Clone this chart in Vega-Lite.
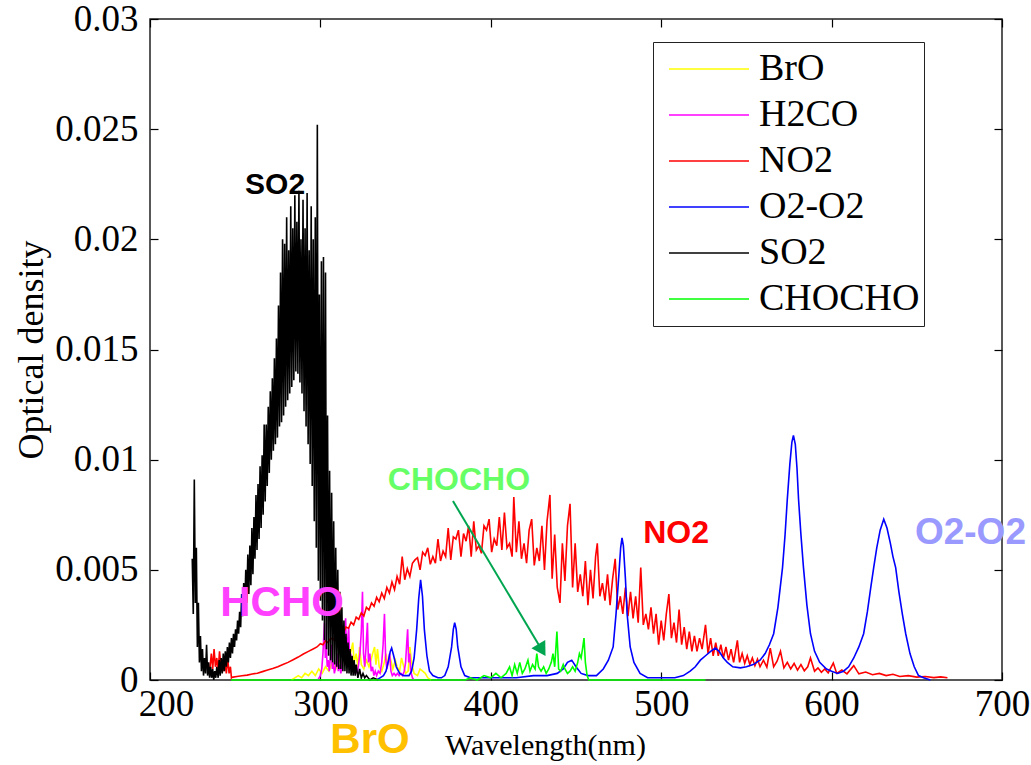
{
"$schema": "https://vega.github.io/schema/vega-lite/v6.json",
"width": 852, "height": 661,
"autosize": "none",
"padding": {"left": 150, "top": 19, "right": 29, "bottom": 85},
"background": "white",
"config": {
 "view": {"stroke": "#222222", "strokeWidth": 1.5},
 "axis": {"labelFont": "Liberation Serif", "titleFont": "Liberation Serif", "labelFontSize": 37, "titleFontSize": 30, "titleFontWeight": "normal", "labelColor": "black", "titleColor": "black", "domain": false, "grid": false, "tickColor": "black", "tickSize": -8, "tickWidth": 1.2, "labelFlush": false},
 "legend": {"orient": "none", "legendX": 503, "legendY": 23, "symbolType": "stroke", "symbolSize": 6400, "symbolStrokeWidth": 1.5, "symbolOffset": 11, "clipHeight": 46, "labelFont": "Liberation Serif", "labelFontSize": 38, "labelColor": "black", "labelLimit": 400, "rowPadding": 0, "padding": 4, "strokeColor": "#222222", "fillColor": "white", "labelOffset": 9, "titleFontSize": 0}
},
"datasets": {
"spec": [
{"s":"BrO","x":283.0,"y":0.0000},{"s":"BrO","x":285.0,"y":0.0001},{"s":"BrO","x":287.0,"y":0.0002},{"s":"BrO","x":289.0,"y":0.0001},{"s":"BrO","x":291.0,"y":0.0003},{"s":"BrO","x":293.0,"y":0.0002},{"s":"BrO","x":295.0,"y":0.0004},{"s":"BrO","x":297.0,"y":0.0002},{"s":"BrO","x":299.0,"y":0.0005},{"s":"BrO","x":301.0,"y":0.0003},{"s":"BrO","x":303.0,"y":0.0006},{"s":"BrO","x":305.0,"y":0.0004},{"s":"BrO","x":307.0,"y":0.0008},{"s":"BrO","x":309.0,"y":0.0005},{"s":"BrO","x":311.0,"y":0.0009},{"s":"BrO","x":312.5,"y":0.0006},{"s":"BrO","x":314.0,"y":0.0012},{"s":"BrO","x":315.5,"y":0.0006},{"s":"BrO","x":317.0,"y":0.0010},{"s":"BrO","x":318.2,"y":0.0014},{"s":"BrO","x":319.0,"y":0.0017},{"s":"BrO","x":319.8,"y":0.0008},{"s":"BrO","x":321.0,"y":0.0012},{"s":"BrO","x":322.0,"y":0.0006},{"s":"BrO","x":323.0,"y":0.0015},{"s":"BrO","x":324.0,"y":0.0007},{"s":"BrO","x":325.5,"y":0.0005},{"s":"BrO","x":327.0,"y":0.0009},{"s":"BrO","x":328.5,"y":0.0006},{"s":"BrO","x":330.0,"y":0.0010},{"s":"BrO","x":331.0,"y":0.0013},{"s":"BrO","x":331.8,"y":0.0015},{"s":"BrO","x":332.6,"y":0.0007},{"s":"BrO","x":333.5,"y":0.0014},{"s":"BrO","x":334.5,"y":0.0006},{"s":"BrO","x":336.0,"y":0.0004},{"s":"BrO","x":337.5,"y":0.0008},{"s":"BrO","x":338.5,"y":0.0012},{"s":"BrO","x":339.5,"y":0.0007},{"s":"BrO","x":341.0,"y":0.0010},{"s":"BrO","x":342.5,"y":0.0005},{"s":"BrO","x":344.0,"y":0.0009},{"s":"BrO","x":345.0,"y":0.0006},{"s":"BrO","x":346.5,"y":0.0004},{"s":"BrO","x":347.6,"y":0.0010},{"s":"BrO","x":348.6,"y":0.0007},{"s":"BrO","x":350.0,"y":0.0003},{"s":"BrO","x":351.5,"y":0.0004},{"s":"BrO","x":352.5,"y":0.0015},{"s":"BrO","x":353.5,"y":0.0008},{"s":"BrO","x":355.0,"y":0.0003},{"s":"BrO","x":357.0,"y":0.0002},{"s":"BrO","x":358.5,"y":0.0005},{"s":"BrO","x":360.0,"y":0.0004},{"s":"BrO","x":361.5,"y":0.0003},{"s":"BrO","x":363.0,"y":0.0001},{"s":"BrO","x":365.0,"y":0.0000},
{"s":"H2CO","x":298.5,"y":0.0000},{"s":"H2CO","x":300.0,"y":0.0002},{"s":"H2CO","x":300.8,"y":0.0005},{"s":"H2CO","x":301.5,"y":0.0012},{"s":"H2CO","x":302.0,"y":0.0020},{"s":"H2CO","x":302.4,"y":0.0026},{"s":"H2CO","x":302.9,"y":0.0010},{"s":"H2CO","x":303.4,"y":0.0016},{"s":"H2CO","x":304.0,"y":0.0006},{"s":"H2CO","x":304.6,"y":0.0009},{"s":"H2CO","x":305.2,"y":0.0004},{"s":"H2CO","x":305.8,"y":0.0010},{"s":"H2CO","x":306.5,"y":0.0016},{"s":"H2CO","x":307.0,"y":0.0005},{"s":"H2CO","x":307.6,"y":0.0008},{"s":"H2CO","x":308.2,"y":0.0003},{"s":"H2CO","x":309.0,"y":0.0006},{"s":"H2CO","x":309.8,"y":0.0012},{"s":"H2CO","x":310.5,"y":0.0004},{"s":"H2CO","x":311.2,"y":0.0007},{"s":"H2CO","x":312.0,"y":0.0003},{"s":"H2CO","x":312.8,"y":0.0008},{"s":"H2CO","x":313.5,"y":0.0012},{"s":"H2CO","x":314.2,"y":0.0020},{"s":"H2CO","x":314.8,"y":0.0028},{"s":"H2CO","x":315.4,"y":0.0009},{"s":"H2CO","x":316.0,"y":0.0018},{"s":"H2CO","x":316.6,"y":0.0024},{"s":"H2CO","x":317.2,"y":0.0008},{"s":"H2CO","x":317.8,"y":0.0012},{"s":"H2CO","x":318.5,"y":0.0004},{"s":"H2CO","x":319.2,"y":0.0006},{"s":"H2CO","x":320.0,"y":0.0003},{"s":"H2CO","x":320.8,"y":0.0005},{"s":"H2CO","x":321.6,"y":0.0003},{"s":"H2CO","x":322.4,"y":0.0007},{"s":"H2CO","x":323.2,"y":0.0012},{"s":"H2CO","x":324.0,"y":0.0022},{"s":"H2CO","x":324.7,"y":0.0040},{"s":"H2CO","x":325.3,"y":0.0012},{"s":"H2CO","x":326.0,"y":0.0006},{"s":"H2CO","x":326.8,"y":0.0015},{"s":"H2CO","x":327.6,"y":0.0026},{"s":"H2CO","x":328.2,"y":0.0008},{"s":"H2CO","x":329.0,"y":0.0012},{"s":"H2CO","x":329.8,"y":0.0004},{"s":"H2CO","x":330.6,"y":0.0006},{"s":"H2CO","x":331.4,"y":0.0002},{"s":"H2CO","x":332.2,"y":0.0004},{"s":"H2CO","x":333.0,"y":0.0002},{"s":"H2CO","x":334.0,"y":0.0004},{"s":"H2CO","x":335.0,"y":0.0003},{"s":"H2CO","x":336.0,"y":0.0008},{"s":"H2CO","x":336.8,"y":0.0016},{"s":"H2CO","x":337.6,"y":0.0030},{"s":"H2CO","x":338.3,"y":0.0010},{"s":"H2CO","x":339.0,"y":0.0005},{"s":"H2CO","x":339.8,"y":0.0008},{"s":"H2CO","x":340.6,"y":0.0012},{"s":"H2CO","x":341.4,"y":0.0004},{"s":"H2CO","x":342.2,"y":0.0002},{"s":"H2CO","x":343.2,"y":0.0003},{"s":"H2CO","x":344.2,"y":0.0002},{"s":"H2CO","x":345.2,"y":0.0003},{"s":"H2CO","x":346.2,"y":0.0002},{"s":"H2CO","x":347.2,"y":0.0003},{"s":"H2CO","x":348.2,"y":0.0002},{"s":"H2CO","x":349.2,"y":0.0004},{"s":"H2CO","x":350.0,"y":0.0008},{"s":"H2CO","x":350.6,"y":0.0016},{"s":"H2CO","x":351.2,"y":0.0023},{"s":"H2CO","x":351.8,"y":0.0008},{"s":"H2CO","x":352.4,"y":0.0012},{"s":"H2CO","x":353.0,"y":0.0004},{"s":"H2CO","x":354.0,"y":0.0001},{"s":"H2CO","x":355.0,"y":0.0000},
{"s":"NO2","x":235.0,"y":0.0004},{"s":"NO2","x":236.0,"y":0.0012},{"s":"NO2","x":236.8,"y":0.0005},{"s":"NO2","x":237.6,"y":0.0014},{"s":"NO2","x":238.4,"y":0.0006},{"s":"NO2","x":239.2,"y":0.0010},{"s":"NO2","x":240.0,"y":0.0004},{"s":"NO2","x":240.8,"y":0.0013},{"s":"NO2","x":241.6,"y":0.0006},{"s":"NO2","x":242.4,"y":0.0009},{"s":"NO2","x":243.2,"y":0.0004},{"s":"NO2","x":244.0,"y":0.0008},{"s":"NO2","x":244.8,"y":0.0003},{"s":"NO2","x":245.6,"y":0.0010},{"s":"NO2","x":246.4,"y":0.0003},{"s":"NO2","x":247.2,"y":0.0006},{"s":"NO2","x":247.8,"y":0.0001},
{"s":"NO2","x":248,"y":0.00012},{"s":"NO2","x":251,"y":0.00016},{"s":"NO2","x":254,"y":0.00019},{"s":"NO2","x":257,"y":0.00022},{"s":"NO2","x":260,"y":0.00027},{"s":"NO2","x":263,"y":0.00031},{"s":"NO2","x":266,"y":0.00038},{"s":"NO2","x":269,"y":0.00045},{"s":"NO2","x":272,"y":0.00052},{"s":"NO2","x":275,"y":0.00060},{"s":"NO2","x":278,"y":0.00070},{"s":"NO2","x":281,"y":0.00080},{"s":"NO2","x":284,"y":0.00092},{"s":"NO2","x":287,"y":0.00104},{"s":"NO2","x":290,"y":0.00118},{"s":"NO2","x":293,"y":0.00130},{"s":"NO2","x":296,"y":0.00142},{"s":"NO2","x":298,"y":0.00150},
{"s":"NO2","x":300.0,"y":0.00165},{"s":"NO2","x":301.5,"y":0.00160},{"s":"NO2","x":303.0,"y":0.00178},{"s":"NO2","x":304.5,"y":0.00170},{"s":"NO2","x":306.0,"y":0.00190},{"s":"NO2","x":307.5,"y":0.00182},{"s":"NO2","x":309.0,"y":0.00205},{"s":"NO2","x":310.5,"y":0.00200},{"s":"NO2","x":312.0,"y":0.00225},{"s":"NO2","x":313.5,"y":0.00215},{"s":"NO2","x":315.0,"y":0.00240},{"s":"NO2","x":316.5,"y":0.00235},{"s":"NO2","x":318.0,"y":0.00262},{"s":"NO2","x":319.5,"y":0.00250},{"s":"NO2","x":321.0,"y":0.00285},{"s":"NO2","x":322.5,"y":0.00275},{"s":"NO2","x":324.0,"y":0.00305},{"s":"NO2","x":325.5,"y":0.00290},{"s":"NO2","x":327.0,"y":0.00330},{"s":"NO2","x":328.5,"y":0.00318},{"s":"NO2","x":330.0,"y":0.00350},{"s":"NO2","x":331.5,"y":0.00335},{"s":"NO2","x":333.0,"y":0.00375},{"s":"NO2","x":334.5,"y":0.00355},{"s":"NO2","x":336.0,"y":0.00395},{"s":"NO2","x":337.5,"y":0.00370},{"s":"NO2","x":339.0,"y":0.00420},{"s":"NO2","x":340.5,"y":0.00395},{"s":"NO2","x":342.0,"y":0.00445},{"s":"NO2","x":343.5,"y":0.00410},{"s":"NO2","x":345.0,"y":0.00470},{"s":"NO2","x":346.5,"y":0.00435},{"s":"NO2","x":348.0,"y":0.00560},{"s":"NO2","x":349.5,"y":0.00455},{"s":"NO2","x":351.0,"y":0.00505},{"s":"NO2","x":352.5,"y":0.00470},{"s":"NO2","x":354.0,"y":0.00530},{"s":"NO2","x":355.5,"y":0.00545},{"s":"NO2","x":357.0,"y":0.00555},{"s":"NO2","x":358.5,"y":0.00500},{"s":"NO2","x":360.0,"y":0.00580},{"s":"NO2","x":361.5,"y":0.00565},{"s":"NO2","x":363.0,"y":0.00600},{"s":"NO2","x":364.5,"y":0.00525},{"s":"NO2","x":366.0,"y":0.00560},{"s":"NO2","x":367.5,"y":0.00530},{"s":"NO2","x":369.0,"y":0.00640},{"s":"NO2","x":370.5,"y":0.00540},{"s":"NO2","x":372.0,"y":0.00585},{"s":"NO2","x":373.5,"y":0.00560},{"s":"NO2","x":375.0,"y":0.00690},{"s":"NO2","x":376.5,"y":0.00545},{"s":"NO2","x":378.0,"y":0.00650},{"s":"NO2","x":379.5,"y":0.00640},{"s":"NO2","x":381.0,"y":0.00680},{"s":"NO2","x":382.5,"y":0.00560},{"s":"NO2","x":384.0,"y":0.00665},{"s":"NO2","x":385.5,"y":0.00630},{"s":"NO2","x":387.0,"y":0.00700},{"s":"NO2","x":388.5,"y":0.00560},{"s":"NO2","x":390.0,"y":0.00720},{"s":"NO2","x":391.5,"y":0.00590},{"s":"NO2","x":393.0,"y":0.00610},{"s":"NO2","x":394.5,"y":0.00575},{"s":"NO2","x":396.0,"y":0.00700},{"s":"NO2","x":397.5,"y":0.00680},{"s":"NO2","x":399.0,"y":0.00730},{"s":"NO2","x":400.5,"y":0.00580},{"s":"NO2","x":402.0,"y":0.00640},{"s":"NO2","x":403.5,"y":0.00610},{"s":"NO2","x":405.0,"y":0.00740},{"s":"NO2","x":406.5,"y":0.00590},{"s":"NO2","x":408.0,"y":0.00760},{"s":"NO2","x":409.5,"y":0.00600},{"s":"NO2","x":411.0,"y":0.00620},{"s":"NO2","x":412.5,"y":0.00560},{"s":"NO2","x":413.5,"y":0.00830},{"s":"NO2","x":415.0,"y":0.00580},{"s":"NO2","x":416.5,"y":0.00720},{"s":"NO2","x":418.0,"y":0.00550},{"s":"NO2","x":419.5,"y":0.00620},{"s":"NO2","x":421.0,"y":0.00530},{"s":"NO2","x":422.5,"y":0.00680},{"s":"NO2","x":424.0,"y":0.00730},{"s":"NO2","x":425.5,"y":0.00520},{"s":"NO2","x":427.0,"y":0.00600},{"s":"NO2","x":428.5,"y":0.00540},{"s":"NO2","x":430.0,"y":0.00700},{"s":"NO2","x":431.5,"y":0.00500},{"s":"NO2","x":433.0,"y":0.00720},{"s":"NO2","x":434.7,"y":0.00840},{"s":"NO2","x":436.0,"y":0.00460},{"s":"NO2","x":437.5,"y":0.00660},{"s":"NO2","x":439.0,"y":0.00420},{"s":"NO2","x":440.6,"y":0.00350},{"s":"NO2","x":442.0,"y":0.00620},{"s":"NO2","x":443.5,"y":0.00450},{"s":"NO2","x":445.0,"y":0.00700},{"s":"NO2","x":446.5,"y":0.00800},{"s":"NO2","x":448.0,"y":0.00420},{"s":"NO2","x":449.5,"y":0.00620},{"s":"NO2","x":451.0,"y":0.00400},{"s":"NO2","x":452.5,"y":0.00480},{"s":"NO2","x":454.0,"y":0.00380},{"s":"NO2","x":455.5,"y":0.00540},{"s":"NO2","x":457.0,"y":0.00340},{"s":"NO2","x":458.5,"y":0.00500},{"s":"NO2","x":460.0,"y":0.00370},{"s":"NO2","x":461.5,"y":0.00560},{"s":"NO2","x":462.5,"y":0.00620},{"s":"NO2","x":464.0,"y":0.00380},{"s":"NO2","x":465.5,"y":0.00440},{"s":"NO2","x":467.0,"y":0.00360},{"s":"NO2","x":468.5,"y":0.00480},{"s":"NO2","x":470.0,"y":0.00340},{"s":"NO2","x":471.5,"y":0.00460},{"s":"NO2","x":473.0,"y":0.00550},{"s":"NO2","x":474.5,"y":0.00320},{"s":"NO2","x":476.0,"y":0.00380},{"s":"NO2","x":477.5,"y":0.00300},{"s":"NO2","x":479.0,"y":0.00420},{"s":"NO2","x":480.5,"y":0.00290},{"s":"NO2","x":482.0,"y":0.00400},{"s":"NO2","x":483.5,"y":0.00280},{"s":"NO2","x":485.0,"y":0.00380},{"s":"NO2","x":486.5,"y":0.00260},{"s":"NO2","x":488.0,"y":0.00510},{"s":"NO2","x":489.5,"y":0.00250},{"s":"NO2","x":491.0,"y":0.00300},{"s":"NO2","x":492.5,"y":0.00230},{"s":"NO2","x":494.0,"y":0.00330},{"s":"NO2","x":495.5,"y":0.00210},{"s":"NO2","x":497.0,"y":0.00300},{"s":"NO2","x":498.5,"y":0.00160},{"s":"NO2","x":500.0,"y":0.00270},{"s":"NO2","x":501.5,"y":0.00180},{"s":"NO2","x":503.0,"y":0.00300},{"s":"NO2","x":504.5,"y":0.00390},{"s":"NO2","x":506.0,"y":0.00190},{"s":"NO2","x":507.5,"y":0.00260},{"s":"NO2","x":509.0,"y":0.00170},{"s":"NO2","x":510.5,"y":0.00320},{"s":"NO2","x":512.0,"y":0.00160},{"s":"NO2","x":513.5,"y":0.00240},{"s":"NO2","x":515.0,"y":0.00140},{"s":"NO2","x":516.5,"y":0.00220},{"s":"NO2","x":518.0,"y":0.00130},{"s":"NO2","x":519.5,"y":0.00200},{"s":"NO2","x":521.0,"y":0.00130},{"s":"NO2","x":522.5,"y":0.00190},{"s":"NO2","x":524.0,"y":0.00140},{"s":"NO2","x":526.0,"y":0.00250},{"s":"NO2","x":527.5,"y":0.00120},{"s":"NO2","x":529.0,"y":0.00190},{"s":"NO2","x":530.5,"y":0.00110},{"s":"NO2","x":532.0,"y":0.00170},{"s":"NO2","x":533.5,"y":0.00110},{"s":"NO2","x":535.0,"y":0.00160},{"s":"NO2","x":536.5,"y":0.00100},{"s":"NO2","x":538.0,"y":0.00150},{"s":"NO2","x":539.5,"y":0.00090},{"s":"NO2","x":541.0,"y":0.00140},{"s":"NO2","x":542.5,"y":0.00080},{"s":"NO2","x":544.7,"y":0.00180},{"s":"NO2","x":546.0,"y":0.00080},{"s":"NO2","x":547.5,"y":0.00120},{"s":"NO2","x":549.0,"y":0.00075},{"s":"NO2","x":550.5,"y":0.00110},{"s":"NO2","x":552.0,"y":0.00070},{"s":"NO2","x":553.5,"y":0.00100},{"s":"NO2","x":555.0,"y":0.00065},{"s":"NO2","x":556.5,"y":0.00095},{"s":"NO2","x":558.0,"y":0.00060},{"s":"NO2","x":560.0,"y":0.00090},{"s":"NO2","x":562.0,"y":0.00058},{"s":"NO2","x":564.0,"y":0.00145},{"s":"NO2","x":566.0,"y":0.00060},{"s":"NO2","x":568.0,"y":0.00085},{"s":"NO2","x":570.0,"y":0.00130},{"s":"NO2","x":572.0,"y":0.00055},{"s":"NO2","x":574.0,"y":0.00080},{"s":"NO2","x":576.0,"y":0.00050},{"s":"NO2","x":578.0,"y":0.00075},{"s":"NO2","x":580.0,"y":0.00045},{"s":"NO2","x":582.0,"y":0.00070},{"s":"NO2","x":584.0,"y":0.00042},{"s":"NO2","x":586.0,"y":0.00060},{"s":"NO2","x":587.6,"y":0.00100},{"s":"NO2","x":590.0,"y":0.00040},{"s":"NO2","x":592.0,"y":0.00055},{"s":"NO2","x":594.0,"y":0.00035},{"s":"NO2","x":596.0,"y":0.00050},{"s":"NO2","x":598.0,"y":0.00032},{"s":"NO2","x":601.0,"y":0.00077},{"s":"NO2","x":603.0,"y":0.00030},{"s":"NO2","x":606.0,"y":0.00045},{"s":"NO2","x":609.0,"y":0.00028},{"s":"NO2","x":613.0,"y":0.00065},{"s":"NO2","x":616.0,"y":0.00028},{"s":"NO2","x":620.0,"y":0.00036},{"s":"NO2","x":624.0,"y":0.00024},{"s":"NO2","x":628.0,"y":0.00030},{"s":"NO2","x":632.0,"y":0.00020},{"s":"NO2","x":636.0,"y":0.00026},{"s":"NO2","x":640.0,"y":0.00016},{"s":"NO2","x":645.0,"y":0.00020},{"s":"NO2","x":650.0,"y":0.00013},{"s":"NO2","x":655.0,"y":0.00016},{"s":"NO2","x":660.0,"y":0.00011},{"s":"NO2","x":664.0,"y":0.00014},{"s":"NO2","x":668.0,"y":0.00010},
{"s":"O2-O2","x":333.0,"y":0.0000},{"s":"O2-O2","x":335.0,"y":0.0001},{"s":"O2-O2","x":337.0,"y":0.0002},{"s":"O2-O2","x":338.5,"y":0.0004},{"s":"O2-O2","x":340.0,"y":0.0009},{"s":"O2-O2","x":341.0,"y":0.0013},{"s":"O2-O2","x":341.8,"y":0.00145},{"s":"O2-O2","x":343.0,"y":0.0011},{"s":"O2-O2","x":344.5,"y":0.0006},{"s":"O2-O2","x":346.5,"y":0.0003},{"s":"O2-O2","x":349.0,"y":0.0002},{"s":"O2-O2","x":352.0,"y":0.0002},{"s":"O2-O2","x":353.5,"y":0.0004},{"s":"O2-O2","x":355.0,"y":0.0010},{"s":"O2-O2","x":356.5,"y":0.0023},{"s":"O2-O2","x":357.7,"y":0.0037},{"s":"O2-O2","x":358.8,"y":0.00455},{"s":"O2-O2","x":359.9,"y":0.0038},{"s":"O2-O2","x":361.0,"y":0.0023},{"s":"O2-O2","x":362.5,"y":0.0011},{"s":"O2-O2","x":364.0,"y":0.0004},{"s":"O2-O2","x":366.0,"y":0.0002},{"s":"O2-O2","x":369.0,"y":0.0001},{"s":"O2-O2","x":371.0,"y":0.0001},{"s":"O2-O2","x":373.0,"y":0.0002},{"s":"O2-O2","x":375.0,"y":0.0006},{"s":"O2-O2","x":377.0,"y":0.0015},{"s":"O2-O2","x":378.0,"y":0.0023},{"s":"O2-O2","x":378.8,"y":0.0026},{"s":"O2-O2","x":379.7,"y":0.0023},{"s":"O2-O2","x":380.6,"y":0.0015},{"s":"O2-O2","x":382.5,"y":0.0006},{"s":"O2-O2","x":384.7,"y":0.0002},{"s":"O2-O2","x":388.0,"y":0.0001},{"s":"O2-O2","x":395.0,"y":0.0001},{"s":"O2-O2","x":405.0,"y":0.0001},{"s":"O2-O2","x":415.0,"y":0.0001},{"s":"O2-O2","x":425.0,"y":0.0002},{"s":"O2-O2","x":433.0,"y":0.0002},{"s":"O2-O2","x":439.0,"y":0.0003},{"s":"O2-O2","x":442.5,"y":0.0005},{"s":"O2-O2","x":445.0,"y":0.0008},{"s":"O2-O2","x":447.5,"y":0.0009},{"s":"O2-O2","x":450.0,"y":0.0006},{"s":"O2-O2","x":453.0,"y":0.0003},{"s":"O2-O2","x":457.0,"y":0.0002},{"s":"O2-O2","x":462.0,"y":0.0002},{"s":"O2-O2","x":466.0,"y":0.0005},{"s":"O2-O2","x":469.0,"y":0.0009},{"s":"O2-O2","x":471.8,"y":0.0015},{"s":"O2-O2","x":473.5,"y":0.0030},{"s":"O2-O2","x":475.0,"y":0.0046},{"s":"O2-O2","x":476.2,"y":0.0060},{"s":"O2-O2","x":477.0,"y":0.00645},{"s":"O2-O2","x":477.8,"y":0.0061},{"s":"O2-O2","x":479.0,"y":0.0046},{"s":"O2-O2","x":480.0,"y":0.0030},{"s":"O2-O2","x":481.8,"y":0.0015},{"s":"O2-O2","x":484.0,"y":0.0008},{"s":"O2-O2","x":487.6,"y":0.0003},{"s":"O2-O2","x":492.0,"y":0.0001},{"s":"O2-O2","x":500.0,"y":0.0001},{"s":"O2-O2","x":508.0,"y":0.0001},{"s":"O2-O2","x":513.0,"y":0.0002},{"s":"O2-O2","x":517.0,"y":0.0004},{"s":"O2-O2","x":520.0,"y":0.0006},{"s":"O2-O2","x":523.0,"y":0.0009},{"s":"O2-O2","x":526.0,"y":0.0011},{"s":"O2-O2","x":529.0,"y":0.0013},{"s":"O2-O2","x":531.8,"y":0.00145},{"s":"O2-O2","x":534.0,"y":0.0013},{"s":"O2-O2","x":536.5,"y":0.0010},{"s":"O2-O2","x":538.8,"y":0.0008},{"s":"O2-O2","x":542.0,"y":0.0006},{"s":"O2-O2","x":546.5,"y":0.00055},{"s":"O2-O2","x":550.0,"y":0.0006},{"s":"O2-O2","x":554.0,"y":0.0007},{"s":"O2-O2","x":558.0,"y":0.0009},{"s":"O2-O2","x":561.0,"y":0.0012},{"s":"O2-O2","x":563.5,"y":0.0016},{"s":"O2-O2","x":566.0,"y":0.0021},{"s":"O2-O2","x":568.5,"y":0.0033},{"s":"O2-O2","x":571.2,"y":0.0051},{"s":"O2-O2","x":572.7,"y":0.0066},{"s":"O2-O2","x":574.0,"y":0.0082},{"s":"O2-O2","x":575.5,"y":0.0098},{"s":"O2-O2","x":576.7,"y":0.0108},{"s":"O2-O2","x":577.6,"y":0.0111},{"s":"O2-O2","x":578.7,"y":0.0107},{"s":"O2-O2","x":579.7,"y":0.0096},{"s":"O2-O2","x":580.6,"y":0.0082},{"s":"O2-O2","x":582.0,"y":0.0066},{"s":"O2-O2","x":583.5,"y":0.0051},{"s":"O2-O2","x":585.5,"y":0.0034},{"s":"O2-O2","x":587.6,"y":0.0021},{"s":"O2-O2","x":590.0,"y":0.0013},{"s":"O2-O2","x":593.0,"y":0.0008},{"s":"O2-O2","x":597.0,"y":0.0005},{"s":"O2-O2","x":600.0,"y":0.0004},{"s":"O2-O2","x":603.5,"y":0.0003},{"s":"O2-O2","x":607.0,"y":0.0004},{"s":"O2-O2","x":610.0,"y":0.0006},{"s":"O2-O2","x":613.0,"y":0.0010},{"s":"O2-O2","x":616.0,"y":0.0015},{"s":"O2-O2","x":618.8,"y":0.0021},{"s":"O2-O2","x":621.0,"y":0.0031},{"s":"O2-O2","x":623.0,"y":0.0042},{"s":"O2-O2","x":624.7,"y":0.0051},{"s":"O2-O2","x":626.5,"y":0.0060},{"s":"O2-O2","x":628.5,"y":0.0068},{"s":"O2-O2","x":630.6,"y":0.0073},{"s":"O2-O2","x":632.5,"y":0.0069},{"s":"O2-O2","x":634.5,"y":0.0062},{"s":"O2-O2","x":636.0,"y":0.0056},{"s":"O2-O2","x":637.6,"y":0.0051},{"s":"O2-O2","x":639.5,"y":0.0040},{"s":"O2-O2","x":641.5,"y":0.0030},{"s":"O2-O2","x":643.5,"y":0.0021},{"s":"O2-O2","x":646.0,"y":0.0012},{"s":"O2-O2","x":648.5,"y":0.0006},{"s":"O2-O2","x":651.0,"y":0.0002},{"s":"O2-O2","x":654.0,"y":0.0001},{"s":"O2-O2","x":658.0,"y":0.0000},
{"s":"SO2","x":224.8,"y":0.0055},{"s":"SO2","x":225.4,"y":0.0030},{"s":"SO2","x":226.0,"y":0.0091},{"s":"SO2","x":226.6,"y":0.0035},{"s":"SO2","x":227.2,"y":0.0060},{"s":"SO2","x":227.8,"y":0.0015},{"s":"SO2","x":228.4,"y":0.0035},{"s":"SO2","x":229.0,"y":0.0008},{"s":"SO2","x":229.6,"y":0.0020},{"s":"SO2","x":230.2,"y":0.0004},{"s":"SO2","x":230.8,"y":0.0014},{"s":"SO2","x":231.4,"y":0.0002},{"s":"SO2","x":232.0,"y":0.0010},{"s":"SO2","x":232.6,"y":0.0003},{"s":"SO2","x":233.2,"y":0.0016},{"s":"SO2","x":233.8,"y":0.0002},{"s":"SO2","x":234.4,"y":0.0008},{"s":"SO2","x":235.0,"y":0.0001},{"s":"SO2","x":235.6,"y":0.0006},{"s":"SO2","x":236.2,"y":0.0001},{"s":"SO2","x":236.8,"y":0.0005},{"s":"SO2","x":237.4,"y":0.0000},{"s":"SO2","x":238.0,"y":0.0004},{"s":"SO2","x":238.6,"y":0.0001},{"s":"SO2","x":239.2,"y":0.0006},
{"s":"SO2","x":240.0,"y":0.0001},{"s":"SO2","x":240.6,"y":0.0009},{"s":"SO2","x":241.2,"y":0.0002},{"s":"SO2","x":241.8,"y":0.0010},{"s":"SO2","x":242.4,"y":0.0003},{"s":"SO2","x":243.0,"y":0.0012},{"s":"SO2","x":243.6,"y":0.0004},{"s":"SO2","x":244.2,"y":0.0013},{"s":"SO2","x":244.8,"y":0.0006},{"s":"SO2","x":245.4,"y":0.0015},{"s":"SO2","x":246.0,"y":0.0008},{"s":"SO2","x":246.6,"y":0.0017},{"s":"SO2","x":247.2,"y":0.0010},{"s":"SO2","x":247.8,"y":0.0019},{"s":"SO2","x":248.4,"y":0.0012},{"s":"SO2","x":249.0,"y":0.0021},{"s":"SO2","x":249.6,"y":0.0015},{"s":"SO2","x":250.2,"y":0.0023},{"s":"SO2","x":250.8,"y":0.0018},{"s":"SO2","x":251.4,"y":0.0027},{"s":"SO2","x":252.0,"y":0.0021},{"s":"SO2","x":252.6,"y":0.0031},{"s":"SO2","x":253.2,"y":0.0024},{"s":"SO2","x":253.8,"y":0.0039},{"s":"SO2","x":254.4,"y":0.0029},{"s":"SO2","x":255.0,"y":0.0044},{"s":"SO2","x":255.6,"y":0.0032},{"s":"SO2","x":256.2,"y":0.0050},{"s":"SO2","x":256.8,"y":0.0035},{"s":"SO2","x":257.4,"y":0.0057},{"s":"SO2","x":258.0,"y":0.0039},{"s":"SO2","x":258.6,"y":0.0061},{"s":"SO2","x":259.2,"y":0.0043},{"s":"SO2","x":259.8,"y":0.0069},{"s":"SO2","x":260.4,"y":0.0048},{"s":"SO2","x":261.0,"y":0.0074},{"s":"SO2","x":261.6,"y":0.0055},{"s":"SO2","x":262.2,"y":0.0084},{"s":"SO2","x":262.8,"y":0.0059},{"s":"SO2","x":263.4,"y":0.0089},{"s":"SO2","x":264.0,"y":0.0064},{"s":"SO2","x":264.6,"y":0.0097},{"s":"SO2","x":265.2,"y":0.0069},{"s":"SO2","x":265.8,"y":0.0102},{"s":"SO2","x":266.4,"y":0.0075},{"s":"SO2","x":267.0,"y":0.0116},{"s":"SO2","x":267.6,"y":0.0081},{"s":"SO2","x":268.2,"y":0.0116},{"s":"SO2","x":268.8,"y":0.0088},{"s":"SO2","x":269.4,"y":0.0124},{"s":"SO2","x":270.0,"y":0.0094},{"s":"SO2","x":270.6,"y":0.0131},{"s":"SO2","x":271.2,"y":0.0100},{"s":"SO2","x":271.8,"y":0.0137},{"s":"SO2","x":272.4,"y":0.0104},{"s":"SO2","x":273.0,"y":0.0146},{"s":"SO2","x":273.6,"y":0.0107},{"s":"SO2","x":274.2,"y":0.0155},{"s":"SO2","x":274.8,"y":0.0110},{"s":"SO2","x":275.4,"y":0.0170},{"s":"SO2","x":276.0,"y":0.0115},{"s":"SO2","x":276.6,"y":0.0185},{"s":"SO2","x":277.2,"y":0.0117},{"s":"SO2","x":277.8,"y":0.0200},{"s":"SO2","x":278.4,"y":0.0120},{"s":"SO2","x":279.0,"y":0.0198},{"s":"SO2","x":279.6,"y":0.0124},{"s":"SO2","x":280.2,"y":0.0210},{"s":"SO2","x":280.8,"y":0.0127},{"s":"SO2","x":281.4,"y":0.0195},{"s":"SO2","x":282.0,"y":0.0130},{"s":"SO2","x":282.6,"y":0.0215},{"s":"SO2","x":283.2,"y":0.0133},{"s":"SO2","x":283.8,"y":0.0205},{"s":"SO2","x":284.4,"y":0.0136},{"s":"SO2","x":285.0,"y":0.0220},{"s":"SO2","x":285.6,"y":0.0140},{"s":"SO2","x":286.2,"y":0.0208},{"s":"SO2","x":286.8,"y":0.0139},{"s":"SO2","x":287.4,"y":0.0222},{"s":"SO2","x":288.0,"y":0.0135},{"s":"SO2","x":288.6,"y":0.0200},{"s":"SO2","x":289.2,"y":0.0130},{"s":"SO2","x":289.8,"y":0.0218},{"s":"SO2","x":290.4,"y":0.0122},{"s":"SO2","x":291.0,"y":0.0205},{"s":"SO2","x":291.6,"y":0.0115},{"s":"SO2","x":292.2,"y":0.0221},{"s":"SO2","x":292.8,"y":0.0107},{"s":"SO2","x":293.4,"y":0.0195},{"s":"SO2","x":294.0,"y":0.0098},{"s":"SO2","x":294.6,"y":0.0215},{"s":"SO2","x":295.2,"y":0.0088},{"s":"SO2","x":295.8,"y":0.0200},{"s":"SO2","x":296.4,"y":0.0072},{"s":"SO2","x":297.0,"y":0.0210},{"s":"SO2","x":297.6,"y":0.0060},{"s":"SO2","x":298.2,"y":0.0252},{"s":"SO2","x":298.8,"y":0.0045},{"s":"SO2","x":299.4,"y":0.0175},{"s":"SO2","x":300.0,"y":0.0036},{"s":"SO2","x":300.6,"y":0.0190},{"s":"SO2","x":301.2,"y":0.0027},{"s":"SO2","x":301.8,"y":0.0192},{"s":"SO2","x":302.4,"y":0.0018},{"s":"SO2","x":303.0,"y":0.0185},{"s":"SO2","x":303.6,"y":0.0014},{"s":"SO2","x":304.2,"y":0.0120},{"s":"SO2","x":304.8,"y":0.0011},{"s":"SO2","x":305.4,"y":0.0095},{"s":"SO2","x":306.0,"y":0.0009},{"s":"SO2","x":306.6,"y":0.0085},{"s":"SO2","x":307.2,"y":0.0008},{"s":"SO2","x":307.8,"y":0.0072},{"s":"SO2","x":308.4,"y":0.0007},{"s":"SO2","x":309.0,"y":0.0060},{"s":"SO2","x":309.6,"y":0.0006},{"s":"SO2","x":310.2,"y":0.0050},{"s":"SO2","x":310.8,"y":0.0005},{"s":"SO2","x":311.4,"y":0.0040},{"s":"SO2","x":312.0,"y":0.0005},{"s":"SO2","x":312.6,"y":0.0033},{"s":"SO2","x":313.2,"y":0.0004},{"s":"SO2","x":313.8,"y":0.0027},{"s":"SO2","x":314.4,"y":0.0004},{"s":"SO2","x":315.0,"y":0.0021},{"s":"SO2","x":315.6,"y":0.0003},{"s":"SO2","x":316.2,"y":0.0017},{"s":"SO2","x":316.8,"y":0.0003},{"s":"SO2","x":317.4,"y":0.0014},{"s":"SO2","x":318.0,"y":0.0002},{"s":"SO2","x":318.6,"y":0.0011},{"s":"SO2","x":319.2,"y":0.0002},{"s":"SO2","x":319.8,"y":0.0009},{"s":"SO2","x":320.4,"y":0.0002},{"s":"SO2","x":321.0,"y":0.0007},{"s":"SO2","x":322.0,"y":0.0001},{"s":"SO2","x":323.0,"y":0.0005},{"s":"SO2","x":324.0,"y":0.0001},{"s":"SO2","x":325.0,"y":0.0003},{"s":"SO2","x":326.0,"y":0.0001},{"s":"SO2","x":327.0,"y":0.0002},{"s":"SO2","x":329.0,"y":0.0000},{"s":"SO2","x":331.0,"y":0.0001},{"s":"SO2","x":334.0,"y":0.0000},
{"s":"CHOCHO","x":247.6,"y":0.0000},{"s":"CHOCHO","x":300,"y":0.0000},{"s":"CHOCHO","x":350,"y":0.0000},{"s":"CHOCHO","x":385,"y":0.0000},{"s":"CHOCHO","x":388,"y":0.0001},{"s":"CHOCHO","x":392,"y":0.0000},{"s":"CHOCHO","x":396,"y":0.0002},{"s":"CHOCHO","x":400,"y":0.0001},{"s":"CHOCHO","x":403,"y":0.0003},{"s":"CHOCHO","x":406,"y":0.0001},{"s":"CHOCHO","x":409,"y":0.0003},{"s":"CHOCHO","x":411,"y":0.0006},{"s":"CHOCHO","x":412.5,"y":0.0002},{"s":"CHOCHO","x":414,"y":0.0007},{"s":"CHOCHO","x":415.5,"y":0.0003},{"s":"CHOCHO","x":417,"y":0.0008},{"s":"CHOCHO","x":418.5,"y":0.0003},{"s":"CHOCHO","x":420,"y":0.0005},{"s":"CHOCHO","x":421.8,"y":0.0009},{"s":"CHOCHO","x":423,"y":0.0004},{"s":"CHOCHO","x":424.5,"y":0.0007},{"s":"CHOCHO","x":426,"y":0.0005},{"s":"CHOCHO","x":427,"y":0.0012},{"s":"CHOCHO","x":428,"y":0.0006},{"s":"CHOCHO","x":429.5,"y":0.0004},{"s":"CHOCHO","x":431,"y":0.0006},{"s":"CHOCHO","x":432.5,"y":0.0003},{"s":"CHOCHO","x":434,"y":0.0005},{"s":"CHOCHO","x":435.5,"y":0.0008},{"s":"CHOCHO","x":436.5,"y":0.0012},{"s":"CHOCHO","x":437.5,"y":0.0006},{"s":"CHOCHO","x":438.8,"y":0.0022},{"s":"CHOCHO","x":439.8,"y":0.0005},{"s":"CHOCHO","x":441,"y":0.0004},{"s":"CHOCHO","x":442.5,"y":0.0007},{"s":"CHOCHO","x":443.5,"y":0.0005},{"s":"CHOCHO","x":445,"y":0.0003},{"s":"CHOCHO","x":446.5,"y":0.0004},{"s":"CHOCHO","x":448,"y":0.0006},{"s":"CHOCHO","x":449.5,"y":0.0004},{"s":"CHOCHO","x":451,"y":0.0008},{"s":"CHOCHO","x":452,"y":0.0012},{"s":"CHOCHO","x":453,"y":0.0010},{"s":"CHOCHO","x":454,"y":0.0015},{"s":"CHOCHO","x":454.7,"y":0.0019},{"s":"CHOCHO","x":455.5,"y":0.0008},{"s":"CHOCHO","x":456.5,"y":0.0002},{"s":"CHOCHO","x":457.5,"y":0.0000},{"s":"CHOCHO","x":470,"y":0.0000},{"s":"CHOCHO","x":500,"y":0.0000},{"s":"CHOCHO","x":526,"y":0.0000}
]
},
"resolve": {"axis": {"x": "independent", "y": "independent"}},
"layer": [
 {
  "data": {"name": "spec"},
  "mark": {"type": "line"},
  "encoding": {
   "x": {"field": "x", "type": "quantitative", "scale": {"domain": [200, 700], "nice": false, "zero": false}, "axis": {"values": [200,300,400,500,600,700], "labelPadding": 14, "labelOffset": {"condition": {"test": "datum.value === 200", "value": 16}, "value": 0}, "title": "Wavelength(nm)", "titlePadding": 8, "titleX": 395}},
   "y": {"field": "y", "type": "quantitative", "scale": {"domain": [0, 0.03], "nice": false}, "axis": {"values": [0,0.005,0.01,0.015,0.02,0.025,0.03], "format": "~g", "labelPadding": 20, "title": "Optical density", "titleFontSize": 36, "titlePadding": 4}},
   "color": {"field": "s", "type": "nominal", "sort": null, "scale": {"domain": ["BrO","H2CO","NO2","O2-O2","SO2","CHOCHO"], "range": ["#FFFF00","#FF00FF","#FF0000","#0000FF","#000000","#00FF00"]}, "legend": {"title": null}},
   "strokeWidth": {"field": "s", "type": "nominal", "scale": {"domain": ["BrO","H2CO","NO2","O2-O2","SO2","CHOCHO"], "range": [1.6,1.6,1.6,1.6,2.4,1.8]}, "legend": null}
  }
 },
 {
  "data": {"values": [{"x": 377.8, "y": 0.00812, "x2": 428.9, "y2": 0.0015}]},
  "mark": {"type": "rule", "color": "#00A550", "strokeWidth": 2},
  "encoding": {
   "x": {"field": "x", "type": "quantitative", "axis": null}, "y": {"field": "y", "type": "quantitative", "axis": null},
   "x2": {"field": "x2"}, "y2": {"field": "y2"}
  }
 },
 {
  "data": {"values": [{"x": 430.0, "y": 0.00136}]},
  "mark": {"type": "point", "shape": "triangle-up", "filled": true, "color": "#00A550", "size": 260, "angle": 149, "opacity": 1},
  "encoding": {
   "x": {"field": "x", "type": "quantitative", "axis": {"orient": "top", "values": [200,300,400,500,600,700], "labels": false, "title": null}},
   "y": {"field": "y", "type": "quantitative", "axis": {"orient": "right", "values": [0,0.005,0.01,0.015,0.02,0.025,0.03], "labels": false, "title": null}}
  }
 },
 {
  "data": {"values": [{"t": "SO2", "x": 273.4, "y": 0.02247}]},
  "mark": {"type": "text", "font": "Liberation Sans", "fontWeight": "bold", "fontSize": 30, "color": "#000000"},
  "encoding": {"x": {"field": "x", "type": "quantitative", "axis": null}, "y": {"field": "y", "type": "quantitative", "axis": null}, "text": {"field": "t"}}
 },
 {
  "data": {"values": [{"t": "HCHO", "x": 277.5, "y": 0.00349}]},
  "mark": {"type": "text", "font": "Liberation Sans", "fontWeight": "bold", "fontSize": 42, "color": "#FF40FF"},
  "encoding": {"x": {"field": "x", "type": "quantitative", "axis": null}, "y": {"field": "y", "type": "quantitative", "axis": null}, "text": {"field": "t"}}
 },
 {
  "data": {"values": [{"t": "BrO", "x": 329.1, "y": -0.00272}]},
  "mark": {"type": "text", "font": "Liberation Sans", "fontWeight": "bold", "fontSize": 42, "color": "#FFC000"},
  "encoding": {"x": {"field": "x", "type": "quantitative", "axis": null}, "y": {"field": "y", "type": "quantitative", "axis": null}, "text": {"field": "t"}}
 },
 {
  "data": {"values": [{"t": "CHOCHO", "x": 381.3, "y": 0.00908}]},
  "mark": {"type": "text", "font": "Liberation Sans", "fontWeight": "bold", "fontSize": 32, "color": "#66FF66"},
  "encoding": {"x": {"field": "x", "type": "quantitative", "axis": null}, "y": {"field": "y", "type": "quantitative", "axis": null}, "text": {"field": "t"}}
 },
 {
  "data": {"values": [{"t": "NO2", "x": 508.7, "y": 0.00667}]},
  "mark": {"type": "text", "font": "Liberation Sans", "fontWeight": "bold", "fontSize": 32, "color": "#FF0000"},
  "encoding": {"x": {"field": "x", "type": "quantitative", "axis": null}, "y": {"field": "y", "type": "quantitative", "axis": null}, "text": {"field": "t"}}
 },
 {
  "data": {"values": [{"t": "O2-O2", "x": 648.9, "y": 0.00667}]},
  "mark": {"type": "text", "font": "Liberation Sans", "fontWeight": "bold", "fontSize": 37, "color": "#9999FF", "align": "left"},
  "encoding": {"x": {"field": "x", "type": "quantitative", "axis": null}, "y": {"field": "y", "type": "quantitative", "axis": null}, "text": {"field": "t"}}
 }
]
}
